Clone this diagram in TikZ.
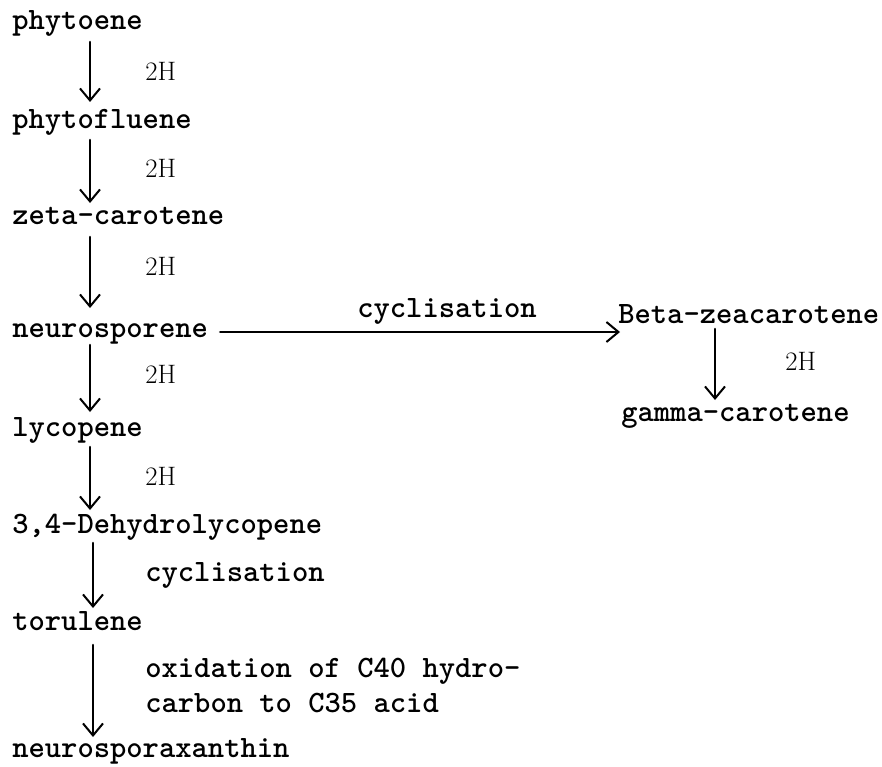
\documentclass[tikz,border=0pt]{standalone}
\usepackage{fontspec}
\usetikzlibrary{arrows.meta}
\tikzset{
  chem/.style={anchor=base west, inner sep=0pt, font=\fontsize{23.3pt}{28pt}\selectfont\ttfamily\bfseries},
  lbl/.style={anchor=base west, inner sep=0pt, font=\fontsize{23.3pt}{28pt}\selectfont\ttfamily\bfseries},
  hlbl/.style={anchor=base west, inner sep=0pt, font=\fontsize{20pt}{24pt}\selectfont\rmfamily},
  arr/.style={line width=1.9pt, line cap=round, -{Straight Barb[length=9pt,width=15pt,line width=1.5pt]}}
}
\begin{document}
\begin{tikzpicture}[x=0.75pt,y=-0.75pt]
\useasboundingbox (0,0) rectangle (882,767);
% main chain
\node[chem] (n1) at (12,30)  {phytoene};
\node[chem] (n2) at (12,128) {phytofluene};
\node[chem] (n3) at (12,224) {zeta-carotene};
\node[chem] (n4) at (12,337) {neurosporene};
\node[chem] (n5) at (12,436) {lycopene};
\node[chem] (n6) at (12,533) {3,4-Dehydrolycopene};
\node[chem] (n7) at (12,630) {torulene};
\node[chem] (n8) at (12,757) {neurosporaxanthin};
% side branch
\node[chem] (b1) at (618,323) {Beta-zeacarotene};
\node[chem] (b2) at (621,421) {gamma-carotene};
% labels
\node[hlbl] (h1) at (145,80)  {2H};
\node[hlbl] (h2) at (145,177) {2H};
\node[hlbl] (h3) at (145,275) {2H};
\node[hlbl] (h4) at (145,383) {2H};
\node[hlbl] (h5) at (145,485) {2H};
\node[hlbl] (h6) at (785,370) {2H};
\node[lbl] (c1) at (357,317) {cyclisation};
\node[lbl] (c2) at (145,581) {cyclisation};
\node[lbl] (o1) at (145,677) {oxidation of C40 hydro-};
\node[lbl] (o2) at (145,712) {carbon to C35 acid};
% connectors
\draw[arr] ([shift={(78,12)}]n1.base west) -- ([shift={(78,-26)}]n2.base west);
\draw[arr] ([shift={(78,12)}]n2.base west) -- ([shift={(78,-21)}]n3.base west);
\draw[arr] ([shift={(78,13)}]n3.base west) -- ([shift={(78,-29)}]n4.base west);
\draw[arr] ([shift={(78,8)}]n4.base west) -- ([shift={(78,-24)}]n5.base west);
\draw[arr] ([shift={(78,11)}]n5.base west) -- ([shift={(78,-23)}]n6.base west);
\draw[arr] ([shift={(81,10)}]n6.base west) -- ([shift={(81,-22)}]n7.base west);
\draw[arr] ([shift={(81,15)}]n7.base west) -- ([shift={(81,-20)}]n8.base west);
\draw[arr] ([shift={(97,6)}]b1.base west) -- ([shift={(94,-21)}]b2.base west);
\draw[arr] ([shift={(12,-5)}]n4.base east) -- ([shift={(2,9)}]b1.base west);
\end{tikzpicture}
\end{document}
